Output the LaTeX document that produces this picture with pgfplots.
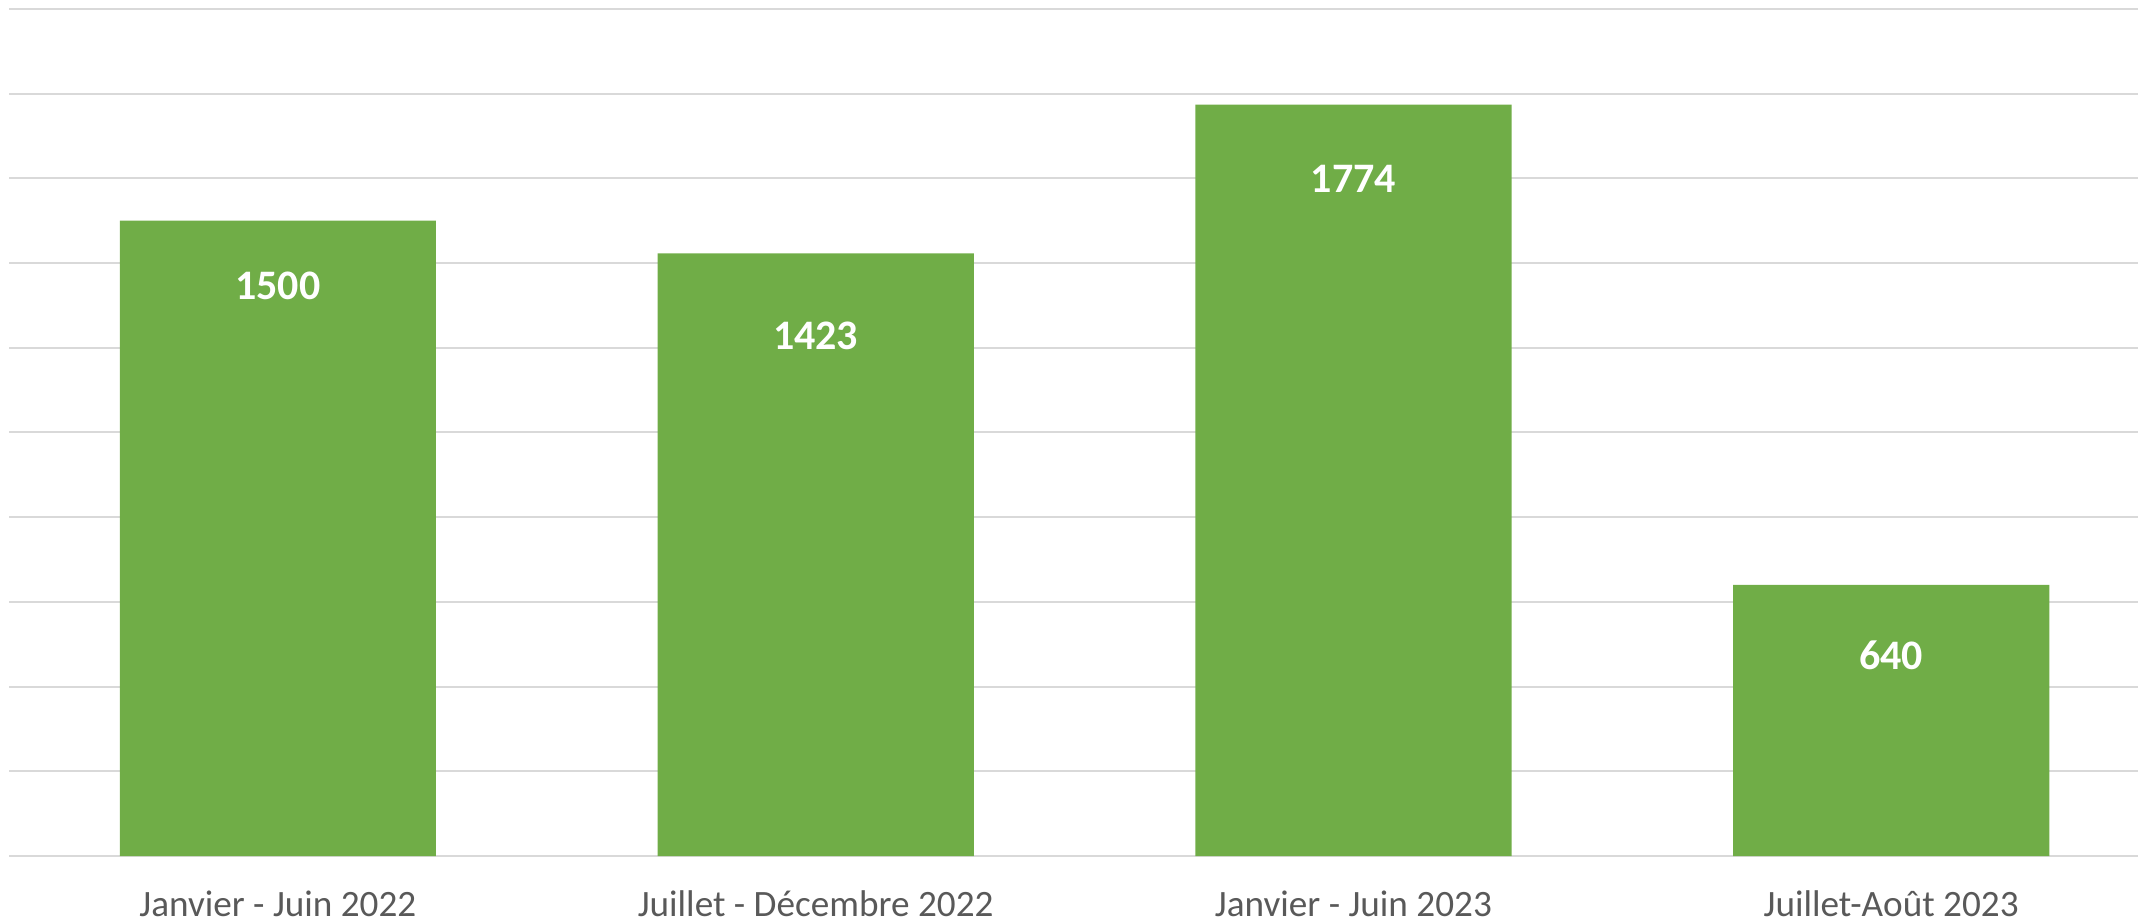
\documentclass[border=0pt]{standalone}
\usepackage{fontspec}
\setmainfont{Carlito}
\usepackage{pgfplots}
\pgfplotsset{compat=1.18}
\definecolor{barg}{HTML}{70AD47}
\definecolor{gridc}{HTML}{D9D9D9}
\definecolor{labc}{HTML}{595959}
\begin{document}
\begin{tikzpicture}
\begin{axis}[name=ax, scale only axis, width=532.25pt, height=211.75pt,
 ybar, bar width=0.588,
 xmin=-0.5, xmax=3.459, ymin=0, ymax=2000,
 ytick={0,200,...,2000}, yticklabels={}, ymajorgrids,
 grid style={gridc, line width=0.5pt},
 xtick={0,1,2,3},
 xticklabels={Janvier - Juin 2022, Juillet - Décembre 2022, Janvier - Juin 2023, Juillet-Août 2023},
 xticklabel style={font=\fontsize{9.3}{11}\selectfont, text=labc, anchor=base, yshift=-15pt},
 major tick length=0pt, axis line style={draw=none},
 /pgf/number format/.cd, 1000 sep={}, assume math mode=true, /pgfplots/.cd,
 clip=false]
\addplot[fill=barg, draw=none, nodes near coords,
  visualization depends on={\thisrow{off} \as \myoff},
  nodes near coords style={font=\bfseries\fontsize{10.5}{12}\selectfont, text=white, anchor=center, yshift=-\myoff pt}]
  table[x=x, y=y] {
x y off
0 1500 16.25
1 1423 20.75
2 1774 18.5
3 640 17.5
};
\end{axis}
\pgfresetboundingbox
\path ([shift={(-2.25pt,-16pt)}]ax.south west) rectangle ([shift={(0pt,2.25pt)}]ax.north east);
\end{tikzpicture}
\end{document}
